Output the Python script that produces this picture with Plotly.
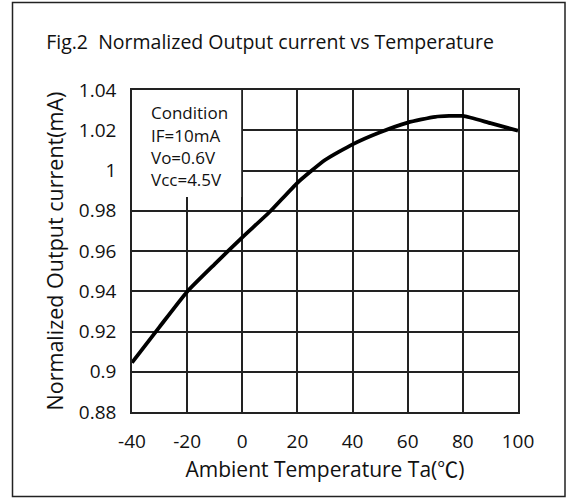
import plotly.graph_objects as go

# Data
temperature = [-40, -30, -20, -10, 0, 10, 20, 30, 40, 50, 60, 70, 80, 90, 100]
normalized_current = [0.9045, 0.9223, 0.9398, 0.9535, 0.9668, 0.9795, 0.9939, 1.0052,
                      1.0130, 1.0190, 1.0238, 1.0267, 1.0271, 1.0235, 1.0198]

x_ticks = [-40, -20, 0, 20, 40, 60, 80, 100]
y_ticks = [0.88, 0.90, 0.92, 0.94, 0.96, 0.98, 1.00, 1.02, 1.04]
y_tick_text = ["0.88", "0.9", "0.92", "0.94", "0.96", "0.98", "1", "1.02", "1.04"]

condition_lines = ["Condition", "IF=10mA", "Vo=0.6V", "Vcc=4.5V"]

title_text = "Fig.2  Normalized Output current vs Temperature"
x_title = "Ambient Temperature Ta(℃)"
y_title = "Normalized Output current(mA)"

FONT = "Open Sans, Noto Sans CJK SC, sans-serif"

fig = go.Figure()
fig.add_trace(go.Scatter(
    x=temperature, y=normalized_current, mode="lines",
    line=dict(color="black", width=3.8, shape="spline", smoothing=0.5),
    showlegend=False, hoverinfo="skip",
))

W, H = 567, 498
L, R, T, B = 132, 49, 90, 86
pw, ph = W - L - R, H - T - B

def px_x(p):
    return (p - L) / pw

def px_y(p):
    return (H - B - p) / ph

shapes = [
    # white box hiding grid behind the condition text
    dict(type="rect", xref="x", yref="y", x0=-40, x1=-0.4, y0=0.9868, y1=1.04,
         fillcolor="white", line=dict(width=0), layer="between"),
    # outer frame
    dict(type="rect", xref="paper", yref="paper",
         x0=px_x(12.5), x1=px_x(565), y0=px_y(496.5), y1=px_y(2.5),
         line=dict(color="#222222", width=1.5), fillcolor="rgba(0,0,0,0)", layer="above"),
]

annotations = []
line_y_px = [113, 135.5, 157.5, 179.5]
for txt, ypx in zip(condition_lines, line_y_px):
    annotations.append(dict(
        text=txt, xref="paper", yref="paper", x=px_x(149), y=px_y(ypx),
        xanchor="left", yanchor="middle", showarrow=False,
        font=dict(family=FONT, size=17, color="#111111"),
    ))

fig.update_layout(
    width=W, height=H,
    margin=dict(l=L, r=R, t=T, b=B, pad=0),
    paper_bgcolor="white", plot_bgcolor="white",
    title=dict(text=title_text, x=270 / W, xanchor="center",
               y=1 - 42 / H, yanchor="middle",
               font=dict(family=FONT, size=19.5, color="#111111")),
    font=dict(family=FONT, color="#111111"),
    shapes=shapes,
    annotations=annotations,
)

fig.update_xaxes(
    range=[-40, 100], tickvals=x_ticks, ticktext=[str(v) for v in x_ticks],
    showgrid=True, gridcolor="#222222", gridwidth=1.5,
    showline=True, linecolor="#222222", linewidth=1.5, mirror=True,
    ticks="", ticklabelstandoff=11, zeroline=False,
    tickfont=dict(family=FONT, size=19, color="#111111"),
    title=dict(text=x_title, font=dict(family=FONT, size=21, color="#111111"), standoff=10),
)
fig.update_yaxes(
    range=[0.88, 1.04], tickvals=y_ticks, ticktext=y_tick_text,
    showgrid=True, gridcolor="#222222", gridwidth=1.5,
    showline=True, linecolor="#222222", linewidth=1.5, mirror=True,
    ticks="", ticklabelstandoff=10, zeroline=False,
    tickfont=dict(family=FONT, size=19, color="#111111"),
    title=dict(text=y_title, font=dict(family=FONT, size=21.5, color="#111111"), standoff=9),
)

fig.write_html("out.html", config={"displayModeBar": False},
               post_script="document.body.style.margin='0px';document.body.style.overflow='hidden';")
